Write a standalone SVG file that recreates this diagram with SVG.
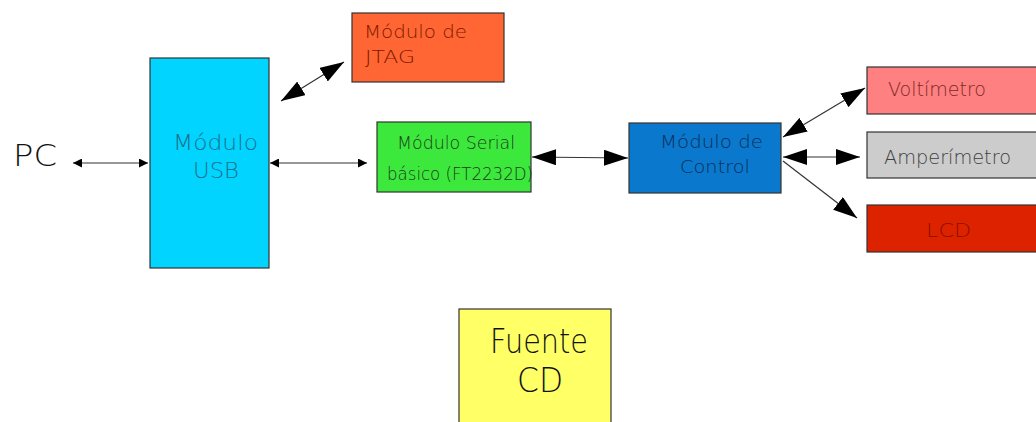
<svg xmlns="http://www.w3.org/2000/svg" width="1036" height="422" viewBox="0 0 1036 422">
<style>
.box{stroke:#333;stroke-width:1.2}
.t{font-family:"DejaVu Sans","Liberation Sans",sans-serif;font-weight:200}
.ln{stroke:#333;stroke-width:1.2;fill:none}
</style>
<defs>
<marker id="sm" viewBox="0 0 10 10" refX="10" refY="5" markerWidth="9" markerHeight="9" markerUnits="userSpaceOnUse" orient="auto-start-reverse"><path d="M0,0 L10,5 L0,10 Z" fill="#000"/></marker>
<marker id="bg" viewBox="0 0 10 10" refX="10" refY="5" markerWidth="24" markerHeight="16" markerUnits="userSpaceOnUse" orient="auto-start-reverse" preserveAspectRatio="none"><path d="M0,0 L10,5 L0,10 Z" fill="#000"/></marker>
</defs>
<rect width="1036" height="422" fill="#fff"/>
<g id="pc"><text class="t" x="13" y="166" font-size="30" fill="#111" textLength="44" lengthAdjust="spacingAndGlyphs">PC</text></g>
<g id="usb"><rect class="box" x="150" y="58" width="119" height="210" fill="#00d4ff"/>
<text class="t" x="173" y="150" font-size="21" fill="#1a6f8e" textLength="85" lengthAdjust="spacingAndGlyphs">Módulo</text>
<text class="t" x="193" y="178" font-size="21" fill="#1a6f8e" textLength="46" lengthAdjust="spacingAndGlyphs">USB</text></g>
<g id="jtag"><rect class="box" x="352" y="13" width="152" height="69" fill="#ff6633"/>
<text class="t" x="364" y="38" font-size="18" fill="#7a1a00" textLength="103" lengthAdjust="spacingAndGlyphs">Módulo de</text>
<text class="t" x="365" y="63" font-size="18" fill="#7a1a00" textLength="50" lengthAdjust="spacingAndGlyphs">JTAG</text></g>
<g id="serial"><rect class="box" x="377" y="122" width="154" height="70" fill="#3de83d"/>
<text class="t" x="397" y="149" font-size="18" fill="#1a3a1a" textLength="118" lengthAdjust="spacingAndGlyphs">Módulo Serial</text>
<text class="t" x="387" y="180" font-size="18" fill="#1a3a1a" textLength="146" lengthAdjust="spacingAndGlyphs">básico (FT2232D)</text></g>
<g id="control"><rect class="box" x="629" y="123" width="152" height="70" fill="#0a78cc"/>
<text class="t" x="660" y="148" font-size="18" fill="#0a2f5a" textLength="103" lengthAdjust="spacingAndGlyphs">Módulo de</text>
<text class="t" x="680" y="173" font-size="18" fill="#0a2f5a" textLength="70" lengthAdjust="spacingAndGlyphs">Control</text></g>
<g id="volt"><rect class="box" x="867" y="67" width="175" height="47" fill="#ff8080"/>
<text class="t" x="888" y="96" font-size="19" fill="#7a2a2a" textLength="98" lengthAdjust="spacingAndGlyphs">Voltímetro</text></g>
<g id="amp"><rect class="box" x="867" y="132" width="175" height="46" fill="#cccccc"/>
<text class="t" x="884" y="164" font-size="19" fill="#404040" textLength="127" lengthAdjust="spacingAndGlyphs">Amperímetro</text></g>
<g id="lcd"><rect class="box" x="867" y="205" width="175" height="47" fill="#dd2200"/>
<text class="t" x="926" y="237" font-size="19" fill="#8a1000" textLength="45" lengthAdjust="spacingAndGlyphs">LCD</text></g>
<g id="fuente"><rect class="box" x="459" y="309" width="152" height="120" fill="#ffff66"/>
<text class="t" x="490" y="353" font-size="34" fill="#111" textLength="98" lengthAdjust="spacingAndGlyphs">Fuente</text>
<text class="t" x="517" y="392" font-size="34" fill="#111" textLength="46" lengthAdjust="spacingAndGlyphs">CD</text></g>
<g id="connectors">
<line class="ln" x1="73" y1="163" x2="148" y2="163" marker-start="url(#sm)" marker-end="url(#sm)"/>
<line class="ln" x1="270" y1="163" x2="367" y2="163" marker-start="url(#sm)" marker-end="url(#sm)"/>
<line class="ln" x1="281" y1="101" x2="344" y2="62" marker-start="url(#bg)" marker-end="url(#bg)"/>
<line class="ln" x1="532" y1="157" x2="628" y2="158" marker-start="url(#bg)" marker-end="url(#bg)"/>
<line class="ln" x1="783" y1="137" x2="865" y2="88" marker-start="url(#bg)" marker-end="url(#bg)"/>
<line class="ln" x1="783" y1="157" x2="860" y2="157" marker-start="url(#bg)" marker-end="url(#bg)"/>
<line class="ln" x1="783" y1="161" x2="857" y2="218" marker-end="url(#bg)"/>
</g>
</svg>
